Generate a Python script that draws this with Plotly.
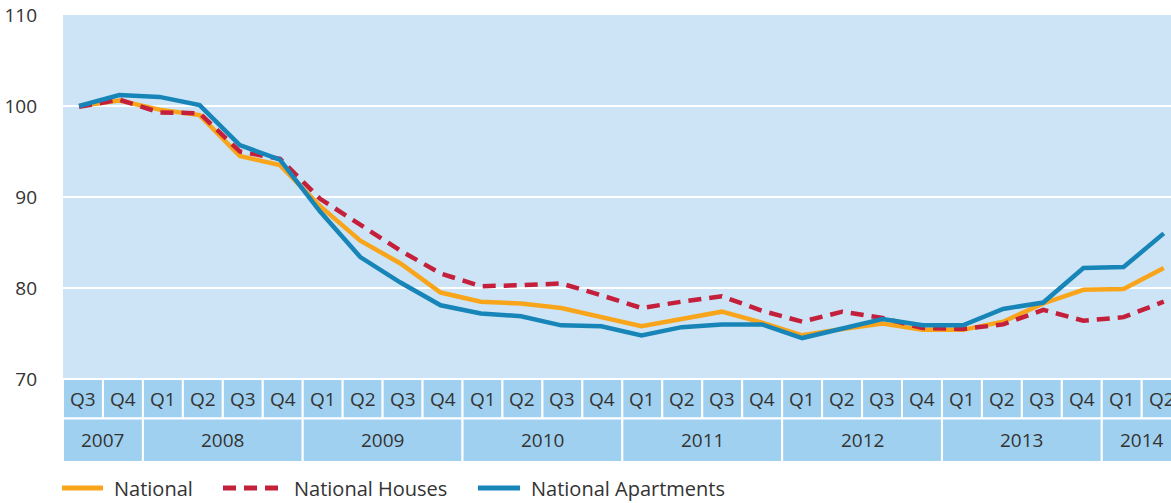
import plotly.graph_objects as go

# ---- data ----
quarters = ["Q3", "Q4",
            "Q1", "Q2", "Q3", "Q4",
            "Q1", "Q2", "Q3", "Q4",
            "Q1", "Q2", "Q3", "Q4",
            "Q1", "Q2", "Q3", "Q4",
            "Q1", "Q2", "Q3", "Q4",
            "Q1", "Q2", "Q3", "Q4",
            "Q1", "Q2"]
years = ["2007", "2008", "2009", "2010", "2011", "2012", "2013", "2014"]
quarters_per_year = [2, 4, 4, 4, 4, 4, 4, 2]

series_names = ["National", "National Houses", "National Apartments"]
national = [100.0, 100.6, 99.6, 99.0, 94.5, 93.5,
            89.0, 85.2, 82.7, 79.5,
            78.5, 78.3, 77.8, 76.8,
            75.8, 76.6, 77.4, 76.2,
            74.8, 75.5, 76.1, 75.4,
            75.4, 76.3, 78.3, 79.8,
            79.9, 82.2]
national_houses = [99.9, 100.7, 99.3, 99.2, 95.0, 94.2,
                   89.8, 86.9, 84.1, 81.6,
                   80.2, 80.3, 80.5, 79.2,
                   77.8, 78.5, 79.1, 77.5,
                   76.3, 77.4, 76.7, 75.6,
                   75.5, 76.0, 77.6, 76.4,
                   76.8, 78.5]
national_apartments = [100.0, 101.2, 101.0, 100.1, 95.7, 94.1,
                       88.4, 83.4, 80.6, 78.1,
                       77.2, 76.9, 75.9, 75.8,
                       74.8, 75.7, 76.0, 76.0,
                       74.5, 75.6, 76.6, 75.9,
                       75.9, 77.7, 78.4, 82.2,
                       82.3, 86.0]
y_ticks = [70, 80, 90, 100, 110]

# ---- styling ----
FONT = "Open Sans"
FS = 19
TXT = "#333333"
BG = "#cce4f5"
CELL = "#a0d0ef"
C_NAT = "#f9a51c"
C_HOU = "#c41f3b"
C_APT = "#1885b8"
HOUSE_DASH = "13px,8px"

x = list(range(len(quarters)))

fig = go.Figure()
fig.add_trace(go.Scatter(x=x, y=national, name=series_names[0], mode="lines",
                         line=dict(color=C_NAT, width=4.5), showlegend=False))
fig.add_trace(go.Scatter(x=x, y=national_houses, name=series_names[1], mode="lines",
                         line=dict(color=C_HOU, width=4.5, dash=HOUSE_DASH), showlegend=False))
fig.add_trace(go.Scatter(x=x, y=national_apartments, name=series_names[2], mode="lines",
                         line=dict(color=C_APT, width=4.5), showlegend=False))

# ---- category table below the plot ----
y_min = 60.88
q_bottom = 65.66
OFF = 0.4
CW = 0.9945   # cell width in x units
shapes = []
annotations = []
def cell_x(k):
    return k * CW - OFF
for k, q in enumerate(quarters):
    shapes.append(dict(type="rect", xref="x", yref="y", x0=cell_x(k), x1=cell_x(k + 1),
                       y0=q_bottom, y1=70, fillcolor=CELL,
                       line=dict(color="white", width=2), layer="below"))
    annotations.append(dict(x=cell_x(k + 0.5), y=(70 + q_bottom) / 2, xref="x", yref="y",
                            text=q, showarrow=False,
                            font=dict(family=FONT, size=FS, color=TXT)))
start = 0
for yr, n in zip(years, quarters_per_year):
    shapes.append(dict(type="rect", xref="x", yref="y", x0=cell_x(start), x1=cell_x(start + n),
                       y0=y_min, y1=q_bottom, fillcolor=CELL,
                       line=dict(color="white", width=2), layer="below"))
    annotations.append(dict(x=cell_x(start + n / 2), y=(q_bottom + y_min) / 2, xref="x", yref="y",
                            text=yr, showarrow=False,
                            font=dict(family=FONT, size=FS, color=TXT)))
    start += n

# ---- legend (drawn as layout items, paper coordinates) ----
PW = 1108.0   # plot width px
PH = 447.0    # plot height px
def px_x(p):
    return (p - 63) / PW
leg_y = -(488 - 462) / PH
legend_items = [
    (series_names[0], C_NAT, "solid", 62, 103, 112),
    (series_names[1], C_HOU, HOUSE_DASH, 223, 285, 292),
    (series_names[2], C_APT, "solid", 478, 520, 529),
]
for name, col, dash, lx0, lx1, tx in legend_items:
    shapes.append(dict(type="line", xref="paper", yref="paper",
                       x0=px_x(lx0), x1=px_x(lx1), y0=leg_y, y1=leg_y,
                       line=dict(color=col, width=5, dash=dash)))
    annotations.append(dict(x=px_x(tx), y=leg_y, xref="paper", yref="paper",
                            xanchor="left", yanchor="middle", text=name, showarrow=False,
                            font=dict(family=FONT, size=FS + 1, color=TXT)))

fig.update_layout(
    width=1171, height=503,
    margin=dict(l=63, r=0, t=15, b=41),
    paper_bgcolor="white",
    plot_bgcolor=BG,
    font=dict(family=FONT, size=FS, color=TXT),
    shapes=shapes,
    annotations=annotations,
    showlegend=False,
    xaxis=dict(range=[-OFF, 27.18], showgrid=False, zeroline=False,
               showticklabels=False, ticks="", showline=False, fixedrange=True),
    yaxis=dict(range=[y_min, 110], tickvals=y_ticks, ticks="",
               showgrid=True, gridcolor="white", gridwidth=1.5,
               zeroline=False, showline=False, ticklabelstandoff=25,
               tickfont=dict(family=FONT, size=FS, color=TXT), fixedrange=True),
    hovermode=False,
)

fig.write_html("out.html", config={"displayModeBar": False},
               post_script="document.body.style.margin='0';document.body.style.overflow='hidden';")
